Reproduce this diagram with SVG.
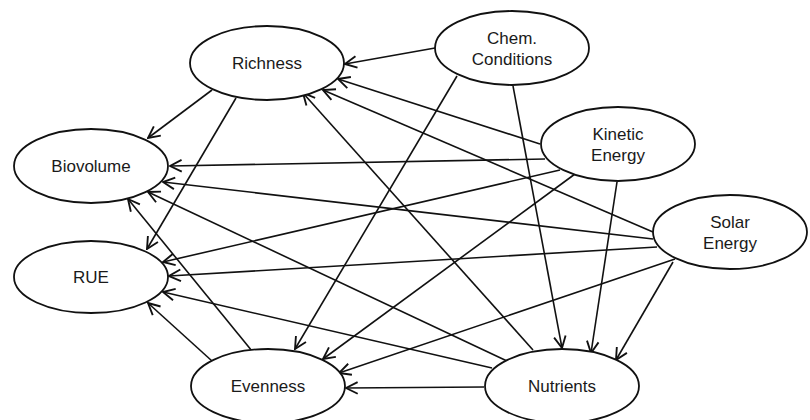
<svg xmlns="http://www.w3.org/2000/svg" width="810" height="420" viewBox="0 0 810 420">
<style>
.node ellipse{fill:#fff;stroke:#111;stroke-width:1.8}
.node text{font-family:"Liberation Sans",Arial,sans-serif;font-size:17px;fill:#1a1a1a;text-anchor:middle}
.edges line{stroke:#111;stroke-width:1.6;marker-end:url(#arr)}
</style>
<defs>
<marker id="arr" markerUnits="userSpaceOnUse" markerWidth="14" markerHeight="14" refX="11" refY="6" orient="auto" viewBox="0 0 12 12">
<path d="M1,1 L11,6 L1,11" fill="none" stroke="#111" stroke-width="1.6"/>
</marker>
</defs>
<rect width="810" height="420" fill="#fff"/>
<g class="edges">
<line x1="435" y1="48" x2="345" y2="64"/>
<line x1="212" y1="90" x2="148" y2="138"/>
<line x1="236" y1="98" x2="147" y2="249"/>
<line x1="457" y1="76" x2="295" y2="349"/>
<line x1="513" y1="86" x2="562" y2="348"/>
<line x1="540" y1="144" x2="338" y2="79"/>
<line x1="545" y1="159" x2="170" y2="166"/>
<line x1="560" y1="170" x2="163" y2="262"/>
<line x1="575" y1="174" x2="323" y2="359"/>
<line x1="617" y1="182" x2="591" y2="353"/>
<line x1="653" y1="232" x2="323" y2="90"/>
<line x1="653" y1="239" x2="163" y2="182"/>
<line x1="657" y1="247" x2="169" y2="276"/>
<line x1="675" y1="259" x2="339" y2="373"/>
<line x1="673" y1="262" x2="616" y2="360"/>
<line x1="533" y1="350" x2="303" y2="93"/>
<line x1="507" y1="361" x2="148" y2="192"/>
<line x1="492" y1="368" x2="163" y2="292"/>
<line x1="484" y1="387" x2="346" y2="388"/>
<line x1="252" y1="351" x2="128" y2="199"/>
<line x1="212" y1="361" x2="148" y2="303"/>
</g>
<g id="richness" class="node"><ellipse cx="267" cy="63" rx="77" ry="37"/><text x="267" y="69">Richness</text></g>
<g id="chem" class="node"><ellipse cx="512" cy="48" rx="77" ry="37"/><text x="512" y="44">Chem.</text><text x="512" y="65">Conditions</text></g>
<g id="kinetic" class="node"><ellipse cx="618" cy="144" rx="77" ry="37"/><text x="618" y="140">Kinetic</text><text x="618" y="161">Energy</text></g>
<g id="biovolume" class="node"><ellipse cx="91" cy="166" rx="77" ry="37"/><text x="91" y="172">Biovolume</text></g>
<g id="solar" class="node"><ellipse cx="730" cy="232" rx="77" ry="37"/><text x="730" y="228">Solar</text><text x="730" y="249">Energy</text></g>
<g id="rue" class="node"><ellipse cx="91" cy="277" rx="77" ry="36"/><text x="91" y="283">RUE</text></g>
<g id="evenness" class="node"><ellipse cx="268" cy="386" rx="77" ry="37"/><text x="268" y="392">Evenness</text></g>
<g id="nutrients" class="node"><ellipse cx="562" cy="386" rx="77" ry="37"/><text x="562" y="392">Nutrients</text></g>
</svg>
